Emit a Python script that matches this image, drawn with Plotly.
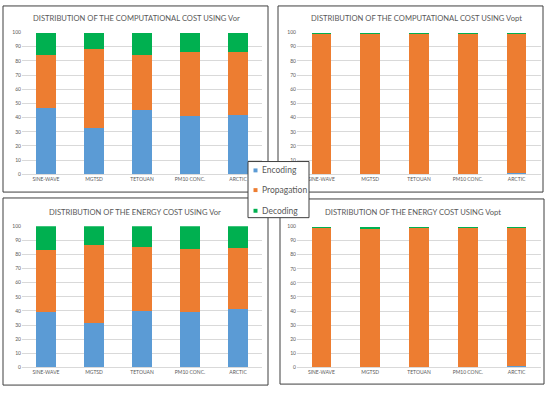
import plotly.graph_objects as go

categories = ["SINE-WAVE", "MGTSD", "TETOUAN", "PM10 CONC.", "ARCTIC"]
series_names = ["Encoding", "Propagation", "Decoding"]
colors = ["#5B9BD5", "#ED7D31", "#00B050"]

# Computational cost, Vor
comp_vor_enc = [47, 33, 45.5, 41, 41.5]
comp_vor_prop = [37.5, 55.5, 38.5, 45, 45]
comp_vor_dec = [15.5, 11.5, 16, 14, 13.5]
# Computational cost, Vopt
comp_vopt_enc = [0.3, 0.1, 0.1, 0.1, 1.0]
comp_vopt_prop = [99.2, 99.2, 99.6, 99.5, 98.4]
comp_vopt_dec = [0.5, 0.7, 0.3, 0.4, 0.6]
# Energy cost, Vor
en_vor_enc = [39.5, 31.5, 40, 39, 41]
en_vor_prop = [44, 55.5, 45, 45, 43.5]
en_vor_dec = [16.5, 13, 15, 16, 15.5]
# Energy cost, Vopt
en_vopt_enc = [0.3, 0.2, 0.1, 0.1, 0.8]
en_vopt_prop = [99.2, 98.4, 99.6, 99.5, 98.7]
en_vopt_dec = [0.5, 1.4, 0.3, 0.4, 0.5]

titles = [
    "DISTRIBUTION OF THE COMPUTATIONAL COST USING Vor",
    "DISTRIBUTION OF THE COMPUTATIONAL COST USING Vopt",
    "DISTRIBUTION OF THE ENERGY COST USING Vor",
    "DISTRIBUTION OF THE ENERGY COST USING Vopt",
]
panels = [
    (comp_vor_enc, comp_vor_prop, comp_vor_dec),
    (comp_vopt_enc, comp_vopt_prop, comp_vopt_dec),
    (en_vor_enc, en_vor_prop, en_vor_dec),
    (en_vopt_enc, en_vopt_prop, en_vopt_dec),
]

W, H = 550, 393
def px(x): return x / W
def py(y): return 1 - y / H

# plot-area geometry (pixels) per panel: x0, x1, ytop(100), ybottom(0)
geom = [
    (22, 262, 30, 174),
    (297, 541, 30, 174),
    (22, 262, 226.7, 370),
    (297, 541, 227, 370),
]
boxes = [
    (3, 3, 268, 192),
    (278, 3, 543, 192),
    (3, 198, 268, 388),
    (280, 199, 544, 387),
]
title_pos = [(136, 15), (416, 15), (135, 212), (413, 212)]

FONT = "Lato"
TXT = "#595959"

fig = go.Figure()
layout = dict(
    width=W, height=H, margin=dict(l=0, r=0, t=0, b=0),
    paper_bgcolor="white", plot_bgcolor="white",
    barmode="stack", bargap=0.6, showlegend=False,
    font=dict(family=FONT, color=TXT),
    shapes=[], annotations=[],
)

for i, (vals, g) in enumerate(zip(panels, geom)):
    n = "" if i == 0 else str(i + 1)
    for j, (name, v) in enumerate(zip(series_names, vals)):
        fig.add_trace(go.Bar(
            x=categories, y=v, name=name, marker_color=colors[j],
            marker_line_width=0, xaxis="x" + n, yaxis="y" + n,
        ))
    x0, x1, yt, yb = g
    layout["xaxis" + n] = dict(
        domain=[px(x0), px(x1)], anchor="y" + n, showgrid=False,
        showline=True, linecolor="#D9D9D9", linewidth=1,
        tickfont=dict(size=5, color=TXT), ticks="", fixedrange=True,
    )
    layout["yaxis" + n] = dict(
        domain=[py(yb), py(yt)], anchor="x" + n, range=[0, 100],
        dtick=10, showgrid=True, gridcolor="#D9D9D9", gridwidth=1,
        zeroline=False, showline=False, ticks="",
        tickfont=dict(size=5, color=TXT), fixedrange=True,
    )
    bx0, by0, bx1, by1 = boxes[i]
    layout["shapes"].append(dict(
        type="rect", xref="paper", yref="paper",
        x0=px(bx0), x1=px(bx1), y0=py(by1), y1=py(by0),
        line=dict(color="#3F3F3F", width=1), fillcolor="rgba(0,0,0,0)", layer="below",
    ))
    tx, ty = title_pos[i]
    layout["annotations"].append(dict(
        text=titles[i], xref="paper", yref="paper", x=px(tx), y=py(ty),
        xanchor="center", yanchor="middle", showarrow=False,
        font=dict(size=7.6, color=TXT, family=FONT),
    ))

# manual legend
lx0, ly0, lx1, ly1 = 248, 161, 309, 218
layout["shapes"].append(dict(
    type="rect", xref="paper", yref="paper",
    x0=px(lx0), x1=px(lx1), y0=py(ly1), y1=py(ly0),
    line=dict(color="#3F3F3F", width=1), fillcolor="white", layer="above",
))
leg_y = [170, 190, 211]
for name, c, yy in zip(series_names, colors, leg_y):
    layout["shapes"].append(dict(
        type="rect", xref="paper", yref="paper",
        x0=px(253.5), x1=px(257.5), y0=py(yy + 2), y1=py(yy - 2),
        line=dict(width=0), fillcolor=c, layer="above",
    ))
    layout["annotations"].append(dict(
        text=name, xref="paper", yref="paper", x=px(259.5), y=py(yy),
        xanchor="left", yanchor="middle", showarrow=False,
        font=dict(size=8.5, color=TXT, family=FONT),
    ))

fig.update_layout(**layout)
fig.write_html("out.html", post_script="document.body.style.margin='0';",
               config={"displayModeBar": False})
